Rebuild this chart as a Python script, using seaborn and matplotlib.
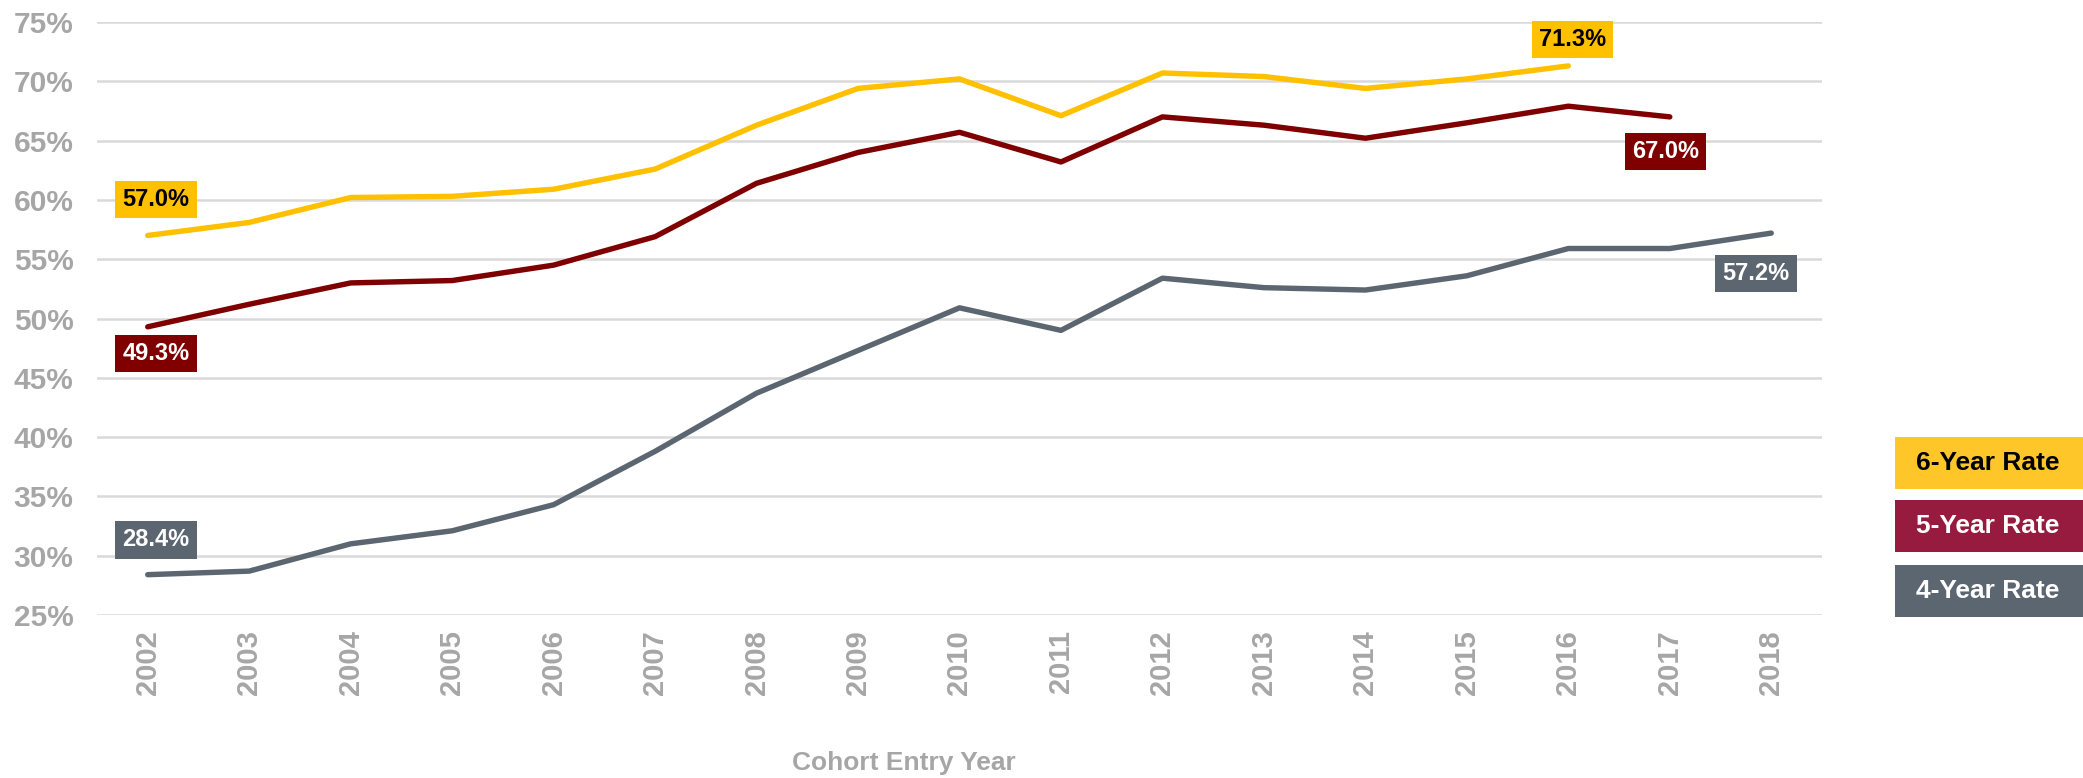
import matplotlib

matplotlib.use("Agg")

import matplotlib.pyplot as plt
import matplotlib.ticker as mticker
import pandas as pd
import seaborn as sns
from matplotlib.patches import Rectangle

# values (percent)
years = list(range(2002, 2019))
six_year = [57.0, 58.1, 60.2, 60.3, 60.9, 62.6, 66.3, 69.4, 70.2, 67.1,
            70.7, 70.4, 69.4, 70.2, 71.3, None, None]
five_year = [49.3, 51.2, 53.0, 53.2, 54.5, 56.9, 61.4, 64.0, 65.7, 63.2,
             67.0, 66.3, 65.2, 66.5, 67.9, 67.0, None]
four_year = [28.4, 28.7, 31.0, 32.1, 34.3, 38.8, 43.7, 47.3, 50.9, 49.0,
             53.4, 52.6, 52.4, 53.6, 55.9, 55.9, 57.2]

series_names = ["6-Year Rate", "5-Year Rate", "4-Year Rate"]
line_colors = ["#FFC000", "#7F0000", "#5C6670"]
legend_colors = ["#FFC629", "#971B3E", "#5C6670"]
legend_text_colors = ["black", "white", "white"]
y_ticks = [25, 30, 35, 40, 45, 50, 55, 60, 65, 70, 75]

grey = "#A6A6A6"

sns.set_theme(style="white")
plt.rcParams["font.family"] = ["Liberation Sans", "DejaVu Sans"]
plt.rcParams["font.weight"] = "bold"

df = pd.DataFrame({
    "Year": years * 3,
    "Rate": [v for vals in (six_year, five_year, four_year) for v in vals],
    "Series": [n for n in series_names for _ in years],
}).dropna()

fig = plt.figure(figsize=(20.83, 7.78), dpi=100)
ax = fig.add_axes([97 / 2083, 163 / 778, (1822 - 97) / 2083, (615 - 22) / 778])

sns.lineplot(data=df, x="Year", y="Rate", hue="Series", hue_order=series_names,
             palette=line_colors, linewidth=3.9, legend=False, ax=ax,
             solid_capstyle="round")

ax.set_xlim(years[0] - 0.5, years[-1] + 0.5)
ax.set_ylim(y_ticks[0], y_ticks[-1])
ax.set_yticks(y_ticks)
ax.yaxis.set_major_formatter(mticker.PercentFormatter(decimals=0))
ax.set_xticks(years)
ax.set_xticklabels([str(y) for y in years], rotation=90)
ax.tick_params(axis="y", labelsize=21.5, labelcolor=grey, length=0, pad=17)
ax.tick_params(axis="x", labelsize=21, labelcolor=grey, length=0, pad=11)
for lab in ax.get_xticklabels() + ax.get_yticklabels():
    lab.set_fontweight("bold")

ax.grid(axis="y", color="#D9D9D9", linewidth=1.8)
ax.grid(axis="x", visible=False)
for s in ax.spines.values():
    s.set_visible(False)
ax.set_xlabel("")
ax.set_ylabel("")

fig.text(904 / 2083, 1 - 763 / 778, "Cohort Entry Year", ha="center", va="center",
         fontsize=19, fontweight="bold", color=grey)

# end-point value labels
def value_label(x, y, text, face, txt, dx, dy):
    ax.annotate(text, (x, y), xytext=(dx, dy), textcoords="offset points",
                ha="center", va="center", fontsize=17, fontweight="bold",
                color=txt,
                bbox=dict(boxstyle="square,pad=0.3", fc=face, ec="none"))

value_label(years[0], six_year[0], f"{six_year[0]:.1f}%", "#FFC000", "black", 6, 26)
value_label(years[0], five_year[0], f"{five_year[0]:.1f}%", "#800000", "white", 6, -19)
value_label(years[0], four_year[0], f"{four_year[0]:.1f}%", "#5C6670", "white", 6, 25)
value_label(years[14], six_year[14], f"{six_year[14]:.1f}%", "#FFC000", "black", 3, 19)
value_label(years[15], five_year[15], f"{five_year[15]:.1f}%", "#800000", "white", -3, -25)
value_label(years[16], four_year[16], f"{four_year[16]:.1f}%", "#5C6670", "white", -11, -29)

# legend as coloured boxes at the right edge
box_tops = [437, 500, 565]
for name, face, tc, top in zip(series_names, legend_colors, legend_text_colors, box_tops):
    fig.patches.append(Rectangle((1895 / 2083, 1 - (top + 52) / 778), (2083 - 1895) / 2083,
                                 52 / 778, transform=fig.transFigure,
                                 facecolor=face, edgecolor="none"))
    fig.text(1988 / 2083, 1 - (top + 26) / 778, name, ha="center", va="center",
             fontsize=19, fontweight="bold", color=tc)

fig.savefig("out.png", dpi=100)
plt.close(fig)
